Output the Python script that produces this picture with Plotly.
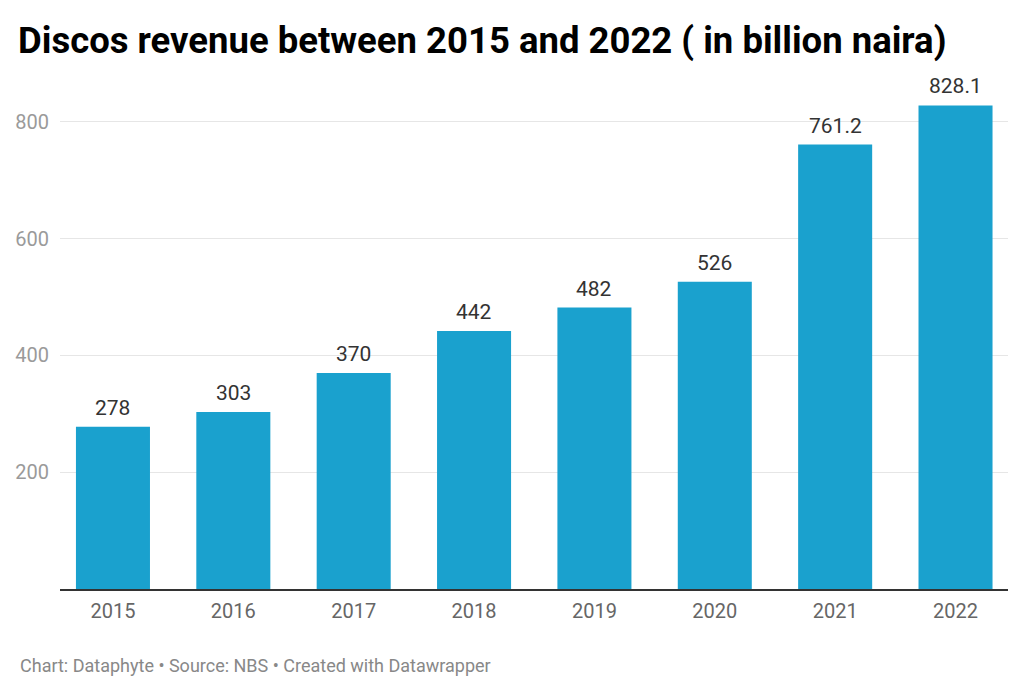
import plotly.graph_objects as go

years = ["2015", "2016", "2017", "2018", "2019", "2020", "2021", "2022"]
revenue = [278, 303, 370, 442, 482, 526, 761.2, 828.1]
labels = ["278", "303", "370", "442", "482", "526", "761.2", "828.1"]
y_ticks = [200, 400, 600, 800]

fig = go.Figure()
fig.add_trace(go.Bar(
    x=years, y=revenue,
    marker=dict(color="#1aa1ce", line=dict(width=0)),
    width=0.615, hoverinfo="skip",
))

value_labels = [dict(x=i, y=v, text=t, xref="x", yref="y", showarrow=False,
                     xanchor="center", yanchor="middle", yshift=19,
                     font=dict(family="Roboto", size=21, color="#333333"))
                for i, (v, t) in enumerate(zip(revenue, labels))]

fig.update_layout(
    width=1024, height=694,
    margin=dict(l=60, r=16, t=81, b=105),
    paper_bgcolor="white", plot_bgcolor="white",
    showlegend=False,
    font=dict(family="Roboto"),
    title=dict(text="<b>Discos revenue between 2015 and 2022 ( in billion naira)</b>",
               x=18/1024, xanchor="left", y=1-40/694, yanchor="middle",
               font=dict(family="Roboto", size=36.5, color="#000000")),
    xaxis=dict(type="category", range=[-0.44, 7.436], showgrid=False,
               showline=True, linecolor="#333333", linewidth=2,
               ticks="", ticklabelstandoff=3,
               tickfont=dict(family="Roboto", size=20, color="#666666"),
               fixedrange=True),
    yaxis=dict(range=[0, 870], tickvals=y_ticks, showgrid=True,
               gridcolor="#e6e6e6", gridwidth=1, zeroline=False,
               ticks="", ticklabelstandoff=10,
               tickfont=dict(family="Roboto", size=20, color="#9a9a9a"),
               fixedrange=True),
    annotations=value_labels + [dict(text="Chart: Dataphyte • Source: NBS • Created with Datawrapper",
                      xref="paper", yref="paper", x=-42/948, y=-(665-589)/508,
                      xanchor="left", yanchor="middle", showarrow=False,
                      font=dict(family="Roboto", size=18, color="#888888"))],
)

fig.write_html("out.html")
